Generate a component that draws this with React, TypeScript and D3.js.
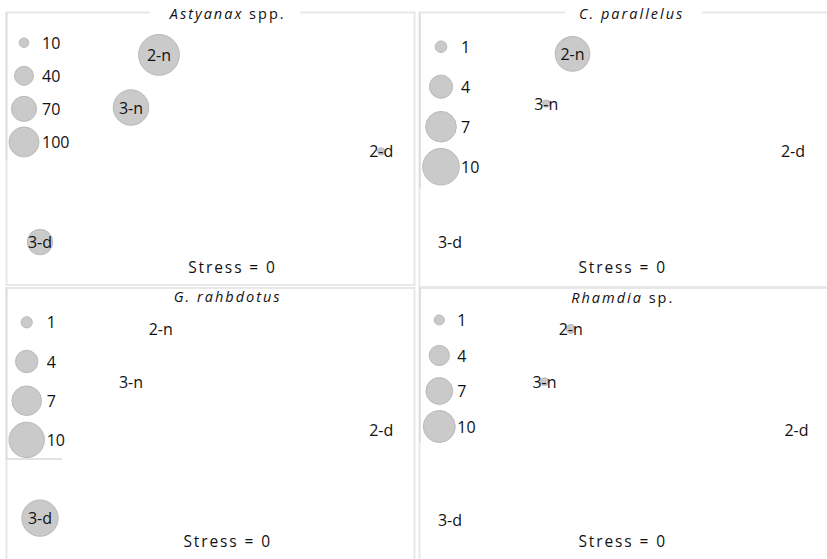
import React from "react";
import * as d3 from "d3";

// ---------- DATA ----------
const titleItalic = ["Astyanax", "C. parallelus", "G. rahbdotus", "Rhamdia"];
const titleNormal = [" spp.", "", "", " sp."];
const siteLabels = ["2-n", "3-n", "2-d", "3-d"];
// nMDS coordinates per panel (order follows siteLabels)
const nmds1 = [
  [-0.32, -0.48, 0.95, -1.0],
  [-0.3, -0.45, 0.96, -1.0],
  [-0.31, -0.48, 0.95, -1.0],
  [-0.31, -0.46, 0.98, -1.0],
];
const nmds2 = [
  [0.95, 0.41, -0.04, -0.97],
  [0.96, 0.45, -0.04, -0.97],
  [0.99, 0.45, -0.05, -0.95],
  [0.99, 0.45, -0.05, -0.97],
];
// abundance (bubble size)
const abundance = [
  [185, 140, 6, 72],
  [9, 0.4, 0, 0],
  [0, 0, 0, 10.5],
  [0.8, 0.6, 0, 0],
];
const legendValues = [
  [10, 40, 70, 100],
  [1, 4, 7, 10],
  [1, 4, 7, 10],
  [1, 4, 7, 10],
];
const stressValues = [0, 0, 0, 0];

// ---------- LAYOUT ----------
const W = 827;
const H = 559;
const panelLeft = [0, 410, 0, 410];
const panelTop = [0, 0, 278, 278];
const maxRadius = [15, 18.3, 17.7, 16];
const legendX = [24, 31, 26.7, 29.3];
const legendLabelX = [42, 51, 46.7, 47.3];
const legendY0 = [42.7, 46.7, 44.3, 42];
const legendStep = [33.1, 40, 39.2, 35.5];
const titlePos = [
  [227.7, 13.3],
  [631.7, 12.7],
  [227.7, 295.7],
  [622.7, 296.7],
];
const titleGap = [
  [150, 300],
  [565, 702],
  [160, 302],
  [557, 695],
];
const stressPos = [
  [232.5, 266.7],
  [622.7, 266.7],
  [227.7, 541],
  [622.7, 541],
];

const FONT = "'Open Sans', 'Liberation Sans', sans-serif";
const FRAME = "#e8e8e8";
const FILL = "#cacaca";
const STROKE = "#b9b9b9";
const TEXT = "#111111";

function Panel({ i }: { i: number }) {
  const left = panelLeft[i];
  const top = panelTop[i];
  const x = d3.scaleLinear().domain([-1, 1]).range([left + 40, left + 390]);
  const y = d3.scaleLinear().domain([-1, 1]).range([top + 245, top + 50]);
  const r = d3
    .scaleSqrt()
    .domain([0, d3.max(legendValues[i]) as number])
    .range([0, maxRadius[i]]);
  const pts = siteLabels.map((lab, k) => ({
    lab,
    x: x(nmds1[i][k]),
    y: y(nmds2[i][k]),
    v: abundance[i][k],
  }));
  return (
    <g>
      {pts.map((p) =>
        p.v > 0 ? (
          <circle
            key={"c" + p.lab}
            cx={p.x}
            cy={p.y}
            r={r(p.v)}
            fill={FILL}
            stroke={STROKE}
            strokeWidth={1}
          />
        ) : null
      )}
      {pts.map((p) => (
        <text
          key={"t" + p.lab}
          x={p.x}
          y={p.y}
          textAnchor="middle"
          dominantBaseline="central"
          fontFamily={FONT}
          fontSize={16}
          fill={TEXT}
        >
          {p.lab}
        </text>
      ))}
      {legendValues[i].map((v, k) => {
        const cy = top + legendY0[i] + k * legendStep[i];
        return (
          <g key={"l" + k}>
            <circle
              cx={left + legendX[i]}
              cy={cy}
              r={r(v)}
              fill={FILL}
              stroke={STROKE}
              strokeWidth={1}
            />
            <text
              x={left + legendLabelX[i]}
              y={cy}
              dominantBaseline="central"
              fontFamily={FONT}
              fontSize={16}
              fill={TEXT}
            >
              {v}
            </text>
          </g>
        );
      })}
      <rect
        x={titleGap[i][0]}
        y={titlePos[i][1] - 4}
        width={titleGap[i][1] - titleGap[i][0]}
        height={8}
        fill="#ffffff"
      />
      <text
        x={titlePos[i][0]}
        y={titlePos[i][1]}
        textAnchor="middle"
        dominantBaseline="central"
        fontFamily={FONT}
        fontSize={14.5}
        letterSpacing={2}
        fill={TEXT}
      >
        <tspan fontStyle="italic">{titleItalic[i]}</tspan>
        {titleNormal[i] ? <tspan>{titleNormal[i]}</tspan> : null}
      </text>
      <text
        x={stressPos[i][0]}
        y={stressPos[i][1]}
        textAnchor="middle"
        dominantBaseline="central"
        fontFamily={FONT}
        fontSize={15.5}
        letterSpacing={1.9}
        fill={TEXT}
      >
        {"Stress = " + stressValues[i]}
      </text>
    </g>
  );
}

export default function App() {
  return (
    <div style={{ position: "fixed", left: 0, top: 0, width: W, height: H, background: "#fff" }}>
      <svg width={W} height={H} viewBox={`0 0 ${W} ${H}`}>
        <rect x={0} y={0} width={W} height={H} fill="#fff" />
        {/* frames */}
        <g stroke={FRAME} strokeWidth={2} fill="none">
          <rect x={6.5} y={12.5} width={408} height={272.5} />
          <rect x={419.5} y={12.5} width={420} height={274.5} />
          <rect x={6.5} y={288} width={408} height={280} />
          <rect x={419.5} y={288} width={420} height={280} />
        </g>
        <g stroke="#dadada" strokeWidth={1.5}>
          <line x1={6.5} x2={6.5} y1={12.5} y2={160} />
          <line x1={420} x2={420} y1={12.5} y2={188} />
          <line x1={6.5} x2={6.5} y1={288} y2={459} />
          <line x1={6.5} x2={62} y1={459} y2={459} />
          <line x1={420} x2={420} y1={288} y2={443} />
        </g>
        {[0, 1, 2, 3].map((i) => (
          <Panel key={i} i={i} />
        ))}
      </svg>
    </div>
  );
}
